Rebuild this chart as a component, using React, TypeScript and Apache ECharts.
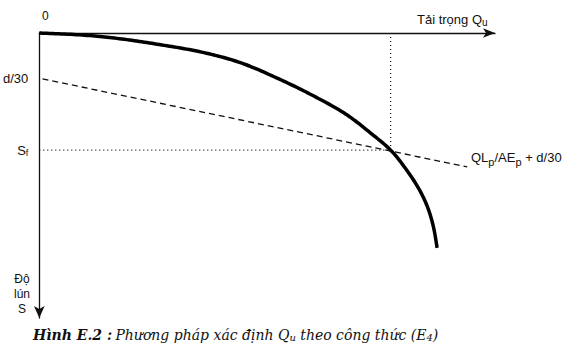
import React, { useEffect, useRef } from "react";
import * as echarts from "echarts";

// Load–settlement curve (load Q, settlement S), arbitrary units
const curveQ = [0, 9.4, 18.1, 26.9, 35.6, 44.3, 53.1, 60.7, 67.2, 72.7, 77.1, 80.3, 83.2, 85.2, 86.5, 87.3];
const curveS = [0, 0.7, 2.1, 4.2, 6.7, 10.5, 16.5, 22.5, 28.4, 35.1, 41.1, 47.4, 54.4, 61.1, 68.1, 75.4];
// Elastic line QL/AE + d/30
const lineQ = [0.7, 93.9];
const lineS = [16.1, 47.0];
// Failure point
const quValue = 77.1;
const sfValue = 41.1;
const d30Value = 15.8;

export default function App() {
  const ref = useRef<HTMLDivElement>(null);
  useEffect(() => {
    const chart = echarts.init(ref.current!, null, { renderer: "svg" });
    const sans = "Liberation Sans";
    const serif = "DejaVu Serif";
    const curve = curveQ.map((q, i) => [q, curveS[i]]);
    const line = lineQ.map((q, i) => [q, lineS[i]]);
    chart.setOption({
      animation: false,
      backgroundColor: "#fff",
      grid: { left: 37, top: 33, width: 458, height: 285 },
      xAxis: {
        type: "value",
        position: "top",
        min: 0,
        max: 100,
        splitLine: { show: false },
        axisTick: { show: false },
        axisLine: { show: true, symbol: ["none", "arrow"], symbolSize: [7, 12], lineStyle: { color: "#111", width: 1.3 } },
        axisLabel: {
          customValues: [0],
          formatter: () => "0",
          margin: 11,
          color: "#111",
          fontFamily: sans,
          fontSize: 12,
          padding: [0, 0, 0, 12],
        },
      },
      yAxis: {
        type: "value",
        inverse: true,
        min: 0,
        max: 100,
        splitLine: { show: false },
        axisTick: { show: false },
        axisLine: { show: true, symbol: ["arrow", "none"], symbolSize: [8, 12], lineStyle: { color: "#111", width: 1.3 } },
        axisLabel: {
          customValues: [d30Value, sfValue],
          formatter: (v: number) => (v === d30Value ? "d/30" : "{n|S}{s|f}"),
          margin: 11,
          color: "#111",
          fontFamily: sans,
          fontSize: 13,
          rich: {
            n: { fontFamily: sans, fontSize: 13, color: "#111" },
            s: { fontFamily: sans, fontSize: 9, color: "#111", padding: [6, 0, 0, 0] },
          },
        },
      },
      series: [
        {
          type: "custom",
          data: curve,
          encode: { x: 0, y: 1 },
          renderItem: (params: any, api: any) => {
            if (params.dataIndex !== 0) return null;
            const pts = curve.map((p) => api.coord(p));
            const out: number[][] = [];
            const n = pts.length;
            for (let i = 0; i < n - 1; i++) {
              const p0 = pts[Math.max(i - 1, 0)];
              const p1 = pts[i];
              const p2 = pts[i + 1];
              const p3 = pts[Math.min(i + 2, n - 1)];
              const steps = 16;
              for (let k = 0; k < steps; k++) {
                const t = k / steps;
                const t2 = t * t;
                const t3 = t2 * t;
                const f = (a: number, b: number, c: number, d: number) =>
                  0.5 * (2 * b + (-a + c) * t + (2 * a - 5 * b + 4 * c - d) * t2 + (-a + 3 * b - 3 * c + d) * t3);
                out.push([f(p0[0], p1[0], p2[0], p3[0]), f(p0[1], p1[1], p2[1], p3[1])]);
              }
            }
            out.push(pts[n - 1]);
            return {
              type: "polyline",
              shape: { points: out },
              style: { stroke: "#000", lineWidth: 3.5, fill: null, lineJoin: "round", lineCap: "butt" },
            };
          },
        },
        {
          type: "line",
          data: line,
          symbol: "none",
          lineStyle: { color: "#111", width: 1.3, type: [6, 4] },
        },
        {
          type: "line",
          data: [[0, sfValue], [quValue, sfValue]],
          symbol: "none",
          lineStyle: { color: "#111", width: 1.2, type: [1, 3] },
        },
        {
          type: "line",
          data: [[quValue, 0], [quValue, sfValue]],
          symbol: "none",
          lineStyle: { color: "#111", width: 1.2, type: [1, 3] },
        },
      ],
      graphic: [
        {
          type: "text",
          left: 417,
          top: 13,
          style: {
            text: "{n|Tải trọng Q}{s|u}",
            rich: {
              n: { fontFamily: sans, fontSize: 13, fill: "#111" },
              s: { fontFamily: sans, fontSize: 10, fill: "#111", padding: [6, 0, 0, 0] },
            },
          },
        },
        {
          type: "text",
          left: 471,
          top: 151,
          style: {
            text: "{n|QL}{s|p}{n|/AE}{s|p}{n| + d/30}",
            rich: {
              n: { fontFamily: sans, fontSize: 13, fill: "#111" },
              s: { fontFamily: sans, fontSize: 11, fill: "#111", padding: [8, 0, 0, 0] },
            },
          },
        },
        {
          type: "text",
          x: 22,
          y: 271,
          style: {
            text: "Độ\nlún\nS",
            align: "center",
            fontFamily: sans,
            fontSize: 12,
            lineHeight: 15,
            fill: "#111",
          },
        },
        {
          type: "text",
          left: 33,
          top: 328,
          style: {
            text: "{b|Hình E.2 :} {i|Phương pháp xác định Q}{is|u}{i| theo công thức (E}{is|4}{i|)}",
            rich: {
              b: { fontFamily: serif, fontStyle: "italic", fontWeight: "bold", fontSize: 14, fill: "#111" },
              i: { fontFamily: serif, fontStyle: "italic", fontSize: 14, fill: "#111" },
              is: { fontFamily: serif, fontStyle: "italic", fontSize: 10, fill: "#111", padding: [5, 0, 0, 0] },
            },
          },
        },
      ],
    });
    return () => chart.dispose();
  }, []);
  return <div ref={ref} style={{ position: "fixed", left: 0, top: 0, width: 567, height: 356 }} />;
}
